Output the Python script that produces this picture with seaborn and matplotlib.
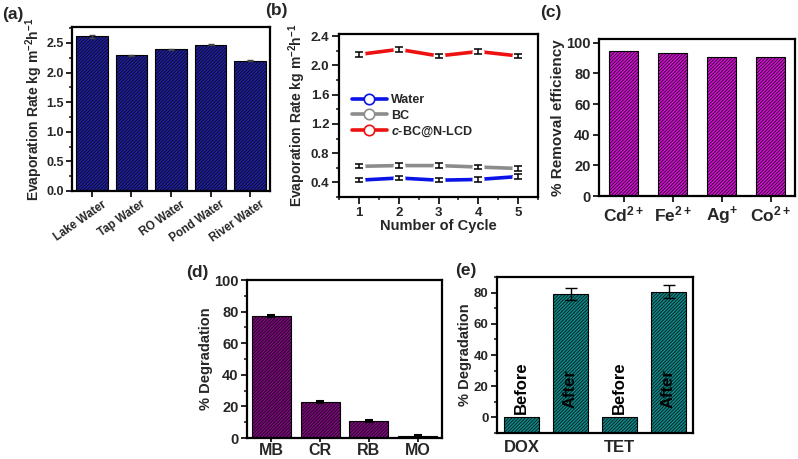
import matplotlib
matplotlib.use("Agg")
import matplotlib.pyplot as plt
import matplotlib.transforms as mtransforms
import seaborn as sns
import numpy as np
import pandas as pd
from matplotlib.ticker import MultipleLocator
from matplotlib.lines import Line2D

# ---------------- data ----------------
water_types = ["Lake Water", "Tap Water", "RO Water", "Pond Water", "River Water"]
evap_rates = [2.61, 2.29, 2.39, 2.47, 2.20]
evap_err = [0.03, 0.01, 0.01, 0.01, 0.01]

cycles = [1, 2, 3, 4, 5]
series_names = ["Water", "BC", "c-BC@N-LCD"]
water_cycle = [0.43, 0.46, 0.43, 0.44, 0.48]
bc_cycle = [0.62, 0.63, 0.63, 0.61, 0.59]
cbc_cycle = [2.15, 2.22, 2.13, 2.19, 2.13]
cycle_err = [0.03, 0.03, 0.03, 0.03, 0.03]

ions = ["Cd$^{2+}$", "Fe$^{2+}$", "Ag$^{+}$", "Co$^{2+}$"]
removal = [94.7, 93.4, 90.8, 90.9]

dyes = ["MB", "CR", "RB", "MO"]
dye_deg = [77.3, 23.0, 10.6, 1.5]
dye_err = [0.7, 0.6, 0.6, 0.5]

drug_bars = ["DOX Before", "DOX After", "TET Before", "TET After"]
drug_deg = [0.0, 79.0, 0.0, 80.5]
drug_err = [0.0, 4.0, 0.0, 4.2]
drug_tags = ["Before", "After", "Before", "After"]
drug_ticks = ["DOX", "TET"]

# ---------------- style ----------------
sns.set_style("ticks")
plt.rcParams["font.family"] = ["Liberation Sans", "DejaVu Sans"]
plt.rcParams["font.weight"] = "bold"
plt.rcParams["axes.labelweight"] = "bold"
plt.rcParams["mathtext.fontset"] = "custom"
plt.rcParams["mathtext.rm"] = "Liberation Sans:bold"
plt.rcParams["mathtext.it"] = "Liberation Sans:italic:bold"
plt.rcParams["mathtext.bf"] = "Liberation Sans:bold"
plt.rcParams["hatch.linewidth"] = 0.45
plt.rcParams["axes.linewidth"] = 1.6

W, H = 798, 459
fig = plt.figure(figsize=(W / 100, H / 100), dpi=100)


def add_ax(left, right, top, bottom):
    return fig.add_axes([left / W, 1 - bottom / H, (right - left) / W, (bottom - top) / H])


def style_ax(ax, tick_size):
    for s in ax.spines.values():
        s.set_linewidth(1.6)
        s.set_color("black")
        s.set_visible(True)
    ax.tick_params(axis="both", which="major", direction="out", length=4, width=1.4,
                   labelsize=tick_size, top=False, right=False, pad=2)
    ax.tick_params(axis="both", which="minor", direction="out", length=2.5, width=1.2,
                   top=False, right=False)
    for lab in ax.get_xticklabels() + ax.get_yticklabels():
        lab.set_fontweight("bold")


HATCH = "//////////"

# ---------------- (a) ----------------
axa = add_ax(72, 270, 27, 191)
dfa = pd.DataFrame({"type": water_types, "rate": evap_rates})
sns.barplot(data=dfa, x="type", y="rate", ax=axa, color="#20209a", saturation=1,
            width=0.8, edgecolor="black", linewidth=0.8, hatch=HATCH, errorbar=None)
axa.errorbar(np.arange(len(water_types)), evap_rates, yerr=evap_err, fmt="none",
             ecolor="#444444", elinewidth=1, capsize=2.5)
axa.set_ylim(0, 2.77)
axa.set_xlim(-0.5, 4.5)
axa.yaxis.set_major_locator(MultipleLocator(0.5))
axa.yaxis.set_minor_locator(MultipleLocator(0.25))
axa.set_xlabel("")
axa.set_ylabel("Evaporation Rate kg m$^{-2}$h$^{-1}$", fontsize=10, labelpad=1)
style_ax(axa, 9)
axa.set_xticks(range(len(water_types)))
axa.set_xticklabels(water_types, rotation=35, ha="right", va="center",
                    rotation_mode="anchor", fontsize=8.3, fontweight="bold")
offset = mtransforms.ScaledTranslation(13 / 100, -4 / 100, fig.dpi_scale_trans)
for lab in axa.get_xticklabels():
    lab.set_transform(lab.get_transform() + offset)

# ---------------- (b) ----------------
axb = add_ax(339, 538, 34, 197)
dfb = pd.DataFrame({
    "cycle": cycles * 3,
    "rate": water_cycle + bc_cycle + cbc_cycle,
    "series": [series_names[0]] * 5 + [series_names[1]] * 5 + [series_names[2]] * 5,
})
pal_b = {"Water": "#0a14e6", "BC": "#8c8c8c", "c-BC@N-LCD": "#ee1111"}
sns.lineplot(data=dfb, x="cycle", y="rate", hue="series", palette=pal_b, ax=axb,
             marker="o", markersize=7.5, markerfacecolor="white", markeredgewidth=1.2,
             linewidth=2.6, legend=False)
for name, vals in zip(series_names, [water_cycle, bc_cycle, cbc_cycle]):
    axb.errorbar(cycles, vals, yerr=cycle_err, fmt="none", ecolor="black",
                 elinewidth=1.1, capsize=3, capthick=1.1)
axb.set_xlim(0.5, 5.5)
axb.set_ylim(0.2, 2.43)
axb.yaxis.set_major_locator(MultipleLocator(0.4))
axb.yaxis.set_minor_locator(MultipleLocator(0.2))
axb.xaxis.set_major_locator(MultipleLocator(1))
axb.xaxis.set_minor_locator(MultipleLocator(0.5))
axb.set_xlabel("Number of Cycle", fontsize=10.5, labelpad=0)
axb.set_ylabel("Evaporation Rate kg m$^{-2}$h$^{-1}$", fontsize=10, labelpad=2)
style_ax(axb, 9.5)
axb.tick_params(axis="both", which="major", length=5)
handles = [Line2D([], [], color=pal_b[n], lw=2.6, marker="o", markersize=7.5,
                  markerfacecolor="white", markeredgewidth=1.2) for n in series_names]
labels = ["Water", "BC", "$\\mathit{c}$-BC@N-LCD"]
axb.legend(handles, labels, loc="upper left", bbox_to_anchor=(0.04, 0.66), frameon=False,
           prop={"weight": "bold", "size": 9}, handlelength=2.8, labelspacing=0.25,
           handletextpad=0.3, borderaxespad=0)

# ---------------- (c) ----------------
axc = add_ax(599, 795, 39, 196)
dfc = pd.DataFrame({"ion": ions, "eff": removal})
sns.barplot(data=dfc, x="ion", y="eff", ax=axc, color="#cc10cc", saturation=1,
            width=0.6, edgecolor="black", linewidth=0.8, hatch=HATCH, errorbar=None)
axc.set_xlim(-0.5, 3.5)
axc.set_ylim(0, 102.5)
axc.yaxis.set_major_locator(MultipleLocator(20))
axc.set_xlabel("")
axc.set_ylabel("% Removal efficiency", fontsize=11, labelpad=1)
style_ax(axc, 10.5)
axc.tick_params(axis="x", labelsize=12.5)

# ---------------- (d) ----------------
axd = add_ax(247, 442, 280, 438)
dfd = pd.DataFrame({"dye": dyes, "deg": dye_deg})
sns.barplot(data=dfd, x="dye", y="deg", ax=axd, color="#7a0a7a", saturation=1,
            width=0.8, edgecolor="black", linewidth=0.8, hatch=HATCH, errorbar=None)
axd.errorbar(np.arange(len(dyes)), dye_deg, yerr=dye_err, fmt="none", ecolor="black",
             elinewidth=1.2, capsize=3, capthick=1.5)
axd.set_xlim(-0.5, 3.5)
axd.set_ylim(0, 100)
axd.yaxis.set_major_locator(MultipleLocator(20))
axd.yaxis.set_minor_locator(MultipleLocator(10))
axd.set_xlabel("")
axd.set_ylabel("% Degradation", fontsize=10.5, labelpad=1)
style_ax(axd, 10.5)
axd.tick_params(axis="x", labelsize=11.5, pad=0.5, length=3)

# ---------------- (e) ----------------
axe = add_ax(497, 693, 277, 433)
dfe = pd.DataFrame({"bar": drug_bars, "deg": drug_deg})
sns.barplot(data=dfe, x="bar", y="deg", ax=axe, color="#0f8484", saturation=1,
            width=0.7, edgecolor="black", linewidth=0.8, hatch=HATCH, errorbar=None)
base = -10
for p in axe.patches:
    h = p.get_height()
    p.set_y(base)
    p.set_height(h - base)
errx = [i for i, e in enumerate(drug_err) if e > 0]
axe.errorbar(errx, [drug_deg[i] for i in errx], yerr=[drug_err[i] for i in errx],
             fmt="none", ecolor="black", elinewidth=1, capsize=4, capthick=1)
for i, tag in enumerate(drug_tags):
    ypos = 2 if tag == "Before" else 6
    axe.text(i, ypos, tag, rotation=90, ha="center", va="bottom", fontsize=12,
             fontweight="bold", color="black")
axe.set_xlim(-0.5, 3.5)
axe.set_ylim(-10, 90)
axe.yaxis.set_major_locator(MultipleLocator(20))
axe.yaxis.set_minor_locator(MultipleLocator(10))
axe.set_xlabel("")
axe.set_ylabel("% Degradation", fontsize=10.5, labelpad=1)
style_ax(axe, 9.5)
axe.set_xticks([0, 2])
axe.set_xticklabels(drug_ticks, fontsize=12, fontweight="bold")
axe.tick_params(axis="x", length=0, pad=5)

# ---------------- panel labels ----------------
for lbl, x, y in [("(a)", 2, 15), ("(b)", 265, 11), ("(c)", 540, 13),
                  ("(d)", 186, 272), ("(e)", 455, 271)]:
    fig.text(x / W, 1 - y / H, lbl, fontsize=12.5, fontweight="bold", va="center", ha="left")

fig.savefig("out.png", dpi=100)
